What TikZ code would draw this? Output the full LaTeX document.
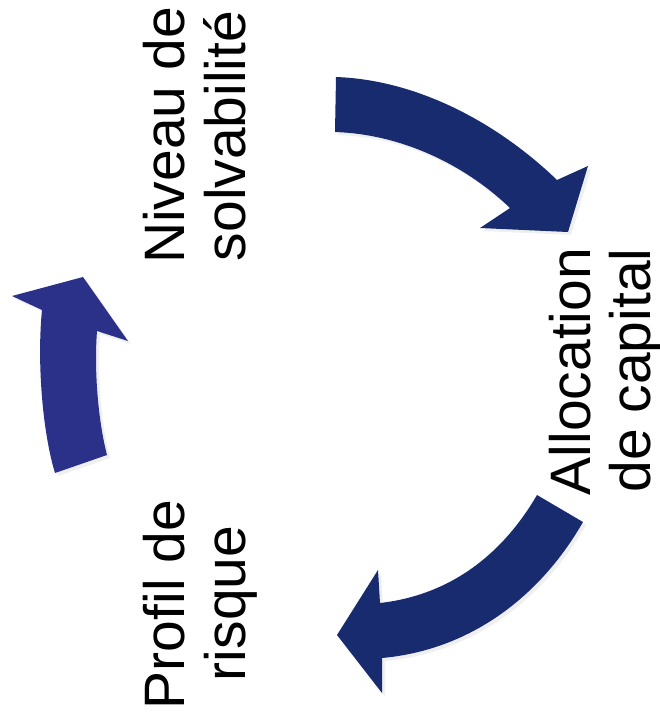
\documentclass[tikz,border=0pt]{standalone}
\usepackage{fontspec}
\setmainfont{Liberation Sans}
\usetikzlibrary{shadows}
\definecolor{navy}{RGB}{24,43,110}
\definecolor{navyv}{RGB}{43,48,136}
\begin{document}
\begin{tikzpicture}[x=1pt,y=-1pt,
  lbl/.style={rotate=90,anchor=base,inner sep=0pt,font=\fontsize{57}{60}\selectfont},
  blockarrow/.style={draw=none,drop shadow={shadow xshift=3pt,shadow yshift=-3pt,opacity=0.12}}]
\useasboundingbox[fill=white] (0,0) rectangle (660,724);
% top arrow
\fill[navy,blockarrow] (336,77) .. controls (420,80) and (500,125) .. (557,180)
  -- (588,166) -- (568,232) -- (480,228) -- (510,208)
  .. controls (462,162) and (398,134) .. (335,132) -- cycle;
% bottom arrow
\fill[navy,blockarrow] (537,495) -- (583,522)
  .. controls (540,597) and (470,650) .. (382,658)
  -- (382,693) -- (337,635) -- (378,570) -- (380,603)
  .. controls (450,595) and (502,555) .. (537,495) -- cycle;
% left arrow
\fill[navyv,blockarrow] (55,473) .. controls (42,430) and (37,360) .. (42,310)
  -- (12,296) -- (83,277) -- (128,341) -- (97,331)
  .. controls (94,370) and (98,420) .. (107,455) -- cycle;
% labels
\node[lbl] (niv1) at (184,135.5) {Niveau de};
\node[lbl] (niv2) at (245,136) {solvabilité};
\node[lbl] (alloc1) at (590,371.5) {Allocation};
\node[lbl] (alloc2) at (650,370.5) {de capital};
\node[lbl] (prof1) at (184,604.5) {Profil de};
\node[lbl] (prof2) at (245,603.5) {risque};
\end{tikzpicture}
\end{document}
